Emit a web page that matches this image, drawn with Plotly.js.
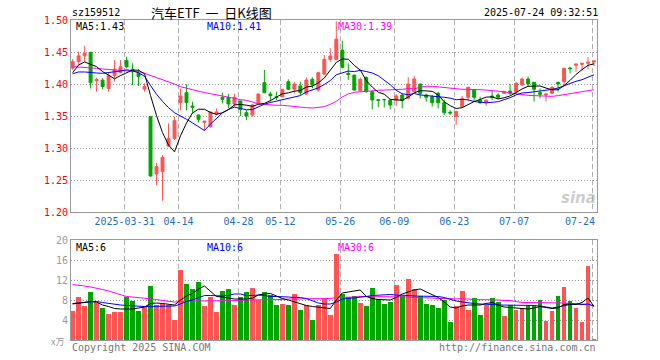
<!DOCTYPE html>
<html><head><meta charset="utf-8">
<script src="https://cdn.plot.ly/plotly-3.0.1.min.js"></script>
<style>body{margin:0;background:#fff}#c{width:660px;height:360px}</style>
</head><body><div id="c"></div>
<script>
// ---- data (sz159512, 2025-03-18 .. 2025-07-24) ----
const tickIdx  = [9, 18, 28, 35, 45, 54, 64, 74, 87];
const tickText = ['2025-03-31','04-14','04-28','05-12','05-26','06-09','06-23','07-07','07-24'];
const priceTicks = [1.20, 1.25, 1.30, 1.35, 1.40, 1.45, 1.50];
const volTicks = [4, 8, 12, 16, 20];

const opens = [1.425,1.435,1.444,1.4495,1.405,1.406,1.393,1.413,1.4177,1.4365,
 1.423,1.4167,1.392,1.349,1.2594,1.263,1.303,1.315,1.3708,1.3865,
 1.3656,1.3516,1.340,1.3333,1.3531,1.3792,1.3792,1.3688,1.3734,1.3552,
 1.3516,1.3698,1.4021,1.3844,1.380,1.3802,1.4036,1.3917,1.3969,1.3844,
 1.4073,1.3906,1.4156,1.4385,1.4385,1.4531,1.4167,1.414,1.3896,1.4104,
 1.388,1.3755,1.376,1.375,1.375,1.3828,1.3776,1.388,1.40,1.3828,
 1.3802,1.3854,1.3708,1.3557,1.349,1.3646,1.3792,1.3906,1.375,1.3708,
 1.3813,1.3828,1.3854,1.389,1.388,1.3984,1.4078,1.4026,1.3865,1.3828,
 1.3854,1.4026,1.4036,1.425,1.4292,1.4307,1.4323,1.4344];
const highs = [1.439,1.4505,1.4594,1.450,1.41,1.409,1.4167,1.4375,1.4375,1.4427,
 1.4323,1.423,1.401,1.349,1.277,1.289,1.3385,1.349,1.393,1.3995,
 1.3724,1.352,1.342,1.357,1.362,1.3865,1.3844,1.3844,1.374,1.3594,
 1.3688,1.3854,1.4219,1.388,1.388,1.392,1.4073,1.4036,1.4036,1.4104,
 1.4104,1.4193,1.4453,1.4557,1.498,1.4677,1.4323,1.414,1.4104,1.4115,
 1.388,1.376,1.376,1.375,1.3844,1.3844,1.4104,1.4125,1.40,1.385,
 1.3828,1.388,1.376,1.3594,1.3583,1.3813,1.3958,1.3917,1.3802,1.375,
 1.3896,1.3854,1.3896,1.40,1.4036,1.4099,1.4115,1.4036,1.3932,1.3844,
 1.3969,1.4036,1.4255,1.427,1.4313,1.4323,1.4417,1.436];
const lows = [1.422,1.4297,1.435,1.393,1.388,1.392,1.388,1.4036,1.4167,1.4245,
 1.3984,1.397,1.388,1.255,1.242,1.2177,1.302,1.3125,1.359,1.359,
 1.355,1.340,1.327,1.332,1.351,1.3698,1.362,1.3646,1.35,1.3438,
 1.349,1.3688,1.3854,1.3724,1.375,1.379,1.3906,1.3854,1.3828,1.3828,
 1.3932,1.388,1.414,1.435,1.4375,1.4245,1.4063,1.3896,1.388,1.3865,
 1.3604,1.3635,1.3635,1.3604,1.3656,1.362,1.376,1.3865,1.3776,1.3724,
 1.3646,1.362,1.3516,1.3516,1.336,1.3635,1.3724,1.3724,1.3688,1.3656,
 1.375,1.376,1.3844,1.3828,1.3854,1.3969,1.3958,1.3724,1.3776,1.3724,
 1.3844,1.388,1.3984,1.4167,1.4193,1.4208,1.4229,1.428];
const closes = [1.435,1.444,1.448,1.402,1.407,1.396,1.413,1.423,1.427,1.427,
 1.419,1.4115,1.396,1.2563,1.2708,1.2854,1.315,1.3427,1.3813,1.3708,
 1.3635,1.3448,1.342,1.3563,1.3563,1.376,1.3688,1.3792,1.3604,1.35,
 1.3672,1.3844,1.3865,1.3818,1.379,1.3917,1.3917,1.40,1.3865,1.4063,
 1.3984,1.4177,1.4385,1.4437,1.470,1.426,1.415,1.3906,1.4073,1.388,
 1.375,1.3745,1.3755,1.3672,1.3813,1.374,1.40,1.4078,1.3854,1.3792,
 1.3708,1.3708,1.3552,1.3547,1.3568,1.3776,1.3948,1.3792,1.3708,1.375,
 1.3792,1.3792,1.388,1.3854,1.401,1.4078,1.40,1.3917,1.3839,1.3844,
 1.3948,1.40,1.4245,1.424,1.4313,1.4323,1.4339,1.436];
const ma5 = [1.4177,1.4297,1.4344,1.4313,1.4272,1.4194,1.4132,1.4082,1.4132,1.4172,
 1.4218,1.4215,1.4161,1.382,1.3507,1.324,1.3047,1.294,1.319,1.339,
 1.3547,1.3606,1.3605,1.3555,1.3526,1.3551,1.3599,1.3673,1.3681,1.3669,
 1.3651,1.3682,1.3697,1.374,1.3798,1.3847,1.3861,1.3888,1.3898,1.3952,
 1.3966,1.4018,1.4095,1.4209,1.4337,1.4392,1.4386,1.4291,1.4218,1.4054,
 1.3952,1.3871,1.3841,1.376,1.3747,1.3745,1.3796,1.3861,1.3897,1.3893,
 1.3886,1.3828,1.3723,1.3661,1.3617,1.363,1.3678,1.3726,1.3758,1.3795,
 1.3798,1.3767,1.3784,1.3814,1.3866,1.3923,1.3964,1.3972,1.3969,1.3936,
 1.391,1.391,1.3975,1.4055,1.4149,1.4224,1.4292,1.4315];
const ma10 = [1.4161,1.4188,1.4188,1.4177,1.4172,1.4167,1.4177,1.4193,1.4203,1.4222,
 1.4206,1.4174,1.4122,1.3976,1.384,1.3729,1.3631,1.3551,1.3505,1.3449,
 1.3393,1.3327,1.3273,1.3373,1.3458,1.3549,1.3603,1.3639,1.3618,1.3597,
 1.3601,1.3641,1.3685,1.3711,1.3733,1.3749,1.3772,1.3793,1.3819,1.3875,
 1.3906,1.394,1.3992,1.4054,1.4145,1.4179,1.4202,1.4193,1.4214,1.4195,
 1.4172,1.4129,1.4066,1.3989,1.39,1.3848,1.3833,1.3851,1.3829,1.382,
 1.3816,1.3812,1.3792,1.3779,1.3755,1.3758,1.3753,1.3725,1.371,1.3706,
 1.3714,1.3723,1.3755,1.3786,1.383,1.386,1.3866,1.3878,1.3891,1.3901,
 1.3916,1.3937,1.3974,1.4012,1.4042,1.4067,1.4101,1.4145];
const ma30 = [1.4271,1.4266,1.426,1.425,1.4245,1.4234,1.4229,1.4224,1.4219,1.4214,
 1.4208,1.4193,1.4167,1.4135,1.4104,1.4073,1.4036,1.40,1.3958,1.3932,
 1.3906,1.388,1.3865,1.3849,1.3833,1.3813,1.3792,1.3776,1.3755,1.3745,
 1.3719,1.3688,1.3682,1.3672,1.3667,1.3667,1.3656,1.3646,1.364,1.363,
 1.3625,1.363,1.3646,1.3682,1.3729,1.3797,1.3844,1.387,1.388,1.3885,
 1.3896,1.3901,1.3906,1.3906,1.3911,1.3917,1.3927,1.3927,1.3948,1.3964,
 1.3964,1.3953,1.3943,1.3932,1.3922,1.3917,1.3917,1.3917,1.3911,1.3906,
 1.3896,1.389,1.388,1.386,1.3844,1.3833,1.3823,1.3818,1.3813,1.3807,
 1.3807,1.3818,1.3833,1.3849,1.3865,1.388,1.3896,1.3911];
const volumes = [5.8,8.6,6.8,9.6,7.7,6.4,5.2,5.6,5.6,8.6,
 7.8,5.8,6.7,10.8,7.0,7.2,7.0,4.0,14.0,11.2,
 10.2,11.6,6.9,8.7,5.6,9.8,10.2,7.0,8.6,9.6,
 10.5,8.0,9.6,9.0,7.0,7.2,7.0,9.2,6.0,7.0,
 4.0,7.0,8.3,5.0,17.2,9.3,8.7,8.8,7.5,6.9,
 10.5,8.2,7.2,7.6,11.0,8.9,12.2,10.2,8.8,7.2,
 7.0,6.4,8.1,3.6,6.8,9.8,6.0,8.4,5.0,7.0,
 8.4,7.6,4.8,7.0,6.0,6.4,6.8,6.8,8.0,3.8,
 5.8,8.8,10.6,7.8,6.4,3.6,14.8,0.2];
const volMa5 = [7.2,7.4,7.6,7.7,7.6,7.0,6.7,6.3,6.2,6.2,
 6.2,6.4,6.6,7.3,7.4,7.3,7.2,7.0,8.0,8.8,
 9.3,10.2,10.8,9.8,8.7,8.6,8.4,8.2,8.2,8.2,
 8.4,9.0,9.2,9.3,8.8,8.3,8.0,7.6,7.2,6.9,
 6.7,6.6,6.5,6.3,8.0,9.4,9.6,9.8,10.0,8.7,
 8.3,8.1,8.0,8.0,8.5,9.2,9.6,10.0,10.2,9.6,
 9.0,8.5,7.6,6.6,6.4,6.8,7.0,7.0,7.0,7.3,
 7.5,7.0,6.6,6.5,6.4,6.3,6.2,6.4,6.7,6.5,
 6.3,6.4,7.1,7.2,7.1,7.5,8.4,6.7];
const volMa10 = [7.3,7.4,7.5,7.6,7.7,7.5,7.3,7.1,7.0,6.9,
 6.8,6.8,6.7,6.7,6.7,6.7,6.7,6.8,7.2,7.7,
 8.0,8.5,8.9,8.9,8.8,8.8,8.9,9.2,9.2,8.9,
 8.9,9.0,8.9,8.7,8.7,8.7,8.6,8.5,8.5,8.3,
 7.9,7.4,7.2,7.2,7.6,8.2,8.3,8.4,8.5,8.7,
 8.9,9.0,9.1,9.1,9.0,9.0,8.9,8.8,8.8,8.8,
 8.7,8.7,8.5,8.1,7.8,7.6,7.4,7.3,7.2,7.2,
 7.1,7.0,7.0,7.0,6.9,6.9,6.9,6.9,6.8,6.6,
 6.4,6.6,6.9,7.1,7.2,7.1,7.2,6.8];
const volMa30 = [11.1,11.0,10.8,10.6,10.4,10.1,9.8,9.4,9.0,8.7,
 8.6,8.5,8.4,8.3,8.1,7.9,7.7,7.6,7.7,7.8,
 7.8,7.8,7.8,7.8,7.8,7.9,7.9,7.9,7.9,8.0,
 8.0,8.0,8.0,8.1,8.1,8.1,8.2,8.2,8.2,8.2,
 8.2,8.3,8.3,8.3,8.5,8.5,8.6,8.6,8.7,8.7,
 8.7,8.7,8.7,8.7,8.7,8.7,8.6,8.5,8.5,8.4,
 8.4,8.3,8.3,8.3,8.2,8.2,8.2,8.1,8.1,8.0,
 8.0,8.0,7.9,7.9,7.7,7.5,7.5,7.5,7.4,7.4,
 7.4,7.4,7.4,7.3,7.2,7.2,7.1,6.8];

// ---- drawing ----
const RED = '#ff5454', GREEN = '#00a600';
const idx = closes.map((_, i) => i);
const volColors = closes.map((c, i) => c >= opens[i] ? RED : GREEN);

const W = 660, H = 360, L = 71, R = 63, T = 20, B = 20;
const PW = W - L - R, PH = H - T - B;
const px = x => (x - L) / PW, py = y => 1 - (y - T) / PH;
const MONO = '"DejaVu Sans Mono", monospace';
function ann(text, x, y, color, opt) {
  opt = opt || {};
  return {text: text, x: px(x), y: py(y), xref: 'paper', yref: 'paper',
    xanchor: opt.xanchor || 'left', yanchor: 'middle', showarrow: false,
    font: Object.assign({family: MONO, size: 10, color: color}, opt.font || {})};
}
const lineTrace = (y, color, xa, ya) => ({type: 'scatter', mode: 'lines', x: idx, y: y,
  xaxis: xa, yaxis: ya, line: {color: color, width: 1}, hoverinfo: 'skip'});

const traces = [
  {type: 'candlestick', x: idx, open: opens, high: highs, low: lows, close: closes,
   xaxis: 'x', yaxis: 'y', whiskerwidth: 0, hoverinfo: 'skip',
   increasing: {line: {color: RED, width: 1}, fillcolor: RED},
   decreasing: {line: {color: GREEN, width: 1}, fillcolor: GREEN}},
  lineTrace(ma30, '#ff00ff', 'x', 'y'),
  lineTrace(ma10, '#0000ff', 'x', 'y'),
  lineTrace(ma5, '#000000', 'x', 'y'),
  {type: 'bar', x: idx, y: volumes, xaxis: 'x2', yaxis: 'y2', width: 0.8,
   marker: {color: volColors, line: {width: 0}}, hoverinfo: 'skip'},
  lineTrace(volMa30, '#ff00ff', 'x2', 'y2'),
  lineTrace(volMa10, '#0000ff', 'x2', 'y2'),
  lineTrace(volMa5, '#000000', 'x2', 'y2')
];

const gridV = {showgrid: true, gridcolor: '#b0b0b0', griddash: '5px,3px', gridwidth: 1};
const xRange = [-0.27, 87.5];
const tv = tickIdx.map(v => v - 0.33);
const lastTick = tickText[tickText.length - 1];
const xaxisBase = Object.assign({range: xRange, tickmode: 'array', tickvals: tv,
  showline: true, mirror: true, linecolor: '#999', linewidth: 1, zeroline: false,
  ticks: '', fixedrange: true}, gridV);

const layout = {
  width: W, height: H, margin: {l: L, r: R, t: T, b: B},
  paper_bgcolor: '#fff', plot_bgcolor: '#fff', showlegend: false,
  bargap: 0,
  xaxis: Object.assign({}, xaxisBase, {domain: [0, 1], anchor: 'y',
    ticktext: tickText.map((t, k) => k === tickText.length - 1 ? '' : t),
    tickfont: {family: MONO, size: 10, color: '#1f6fc5'},
    rangeslider: {visible: false}}),
  xaxis2: Object.assign({}, xaxisBase, {domain: [0, 1], anchor: 'y2',
    ticktext: tickText, showticklabels: false}),
  yaxis: {domain: [0.4, 1], range: [1.20, 1.50], tickmode: 'array',
    tickvals: priceTicks, ticktext: priceTicks.map(v => v.toFixed(2)),
    tickfont: {family: MONO, size: 10, color: '#ff0000'},
    showgrid: true, gridcolor: '#999', griddash: '1px,2px', gridwidth: 1,
    showline: true, mirror: true, linecolor: '#999', linewidth: 1,
    zeroline: false, ticks: '', fixedrange: true},
  yaxis2: {domain: [0, 0.3125], range: [0, 20], tickmode: 'array',
    tickvals: volTicks, ticktext: volTicks.map(String),
    tickfont: {family: MONO, size: 10, color: '#999'},
    showgrid: true, gridcolor: '#999', griddash: '1px,2px', gridwidth: 1,
    showline: true, mirror: true, linecolor: '#999', linewidth: 1,
    zeroline: false, ticks: '', fixedrange: true},
  annotations: [
    ann('sz159512', 70, 13, '#000'),
    ann('汽车ETF\u00a0\u00a0一\u00a0\u00a0日K线图', 211, 13, '#000', {xanchor: 'center', font: {family: '"Noto Sans CJK SC", sans-serif', size: 13}}),
    ann('2025-07-24 09:32:51', 600, 13, '#000', {xanchor: 'right'}),
    ann('MA5:' + ma5[ma5.length - 1].toFixed(2), 74, 26, '#000'),
    ann('MA10:' + ma10[ma10.length - 1].toFixed(2), 205, 26, '#0000ff'),
    ann('MA30:' + ma30[ma30.length - 1].toFixed(2), 336, 26, '#ff00ff'),
    ann(lastTick, 597, 221, '#1f6fc5', {xanchor: 'right'}),
    ann('MA5:' + Math.floor(volMa5[volMa5.length - 1]), 74, 247, '#000'),
    ann('MA10:' + Math.floor(volMa10[volMa10.length - 1]), 205, 247, '#0000ff'),
    ann('MA30:' + Math.floor(volMa30[volMa30.length - 1]), 336, 247, '#ff00ff'),
    ann('x万', 66, 341, '#999', {xanchor: 'right', font: {family: '"Noto Sans CJK SC", sans-serif', size: 9}}),
    ann('Copyright 2025 SINA.COM', 70, 347, '#777'),
    ann('http://finance.sina.com.cn', 598, 347, '#777', {xanchor: 'right'}),
    ann('sina', 578, 198, 'rgba(160,160,160,0.55)', {xanchor: 'center', font: {family: 'DejaVu Sans', size: 15, weight: 'bold', style: 'italic'}})
  ]
};

Plotly.newPlot('c', traces, layout, {staticPlot: true, displayModeBar: false});
</script>
</body></html>
